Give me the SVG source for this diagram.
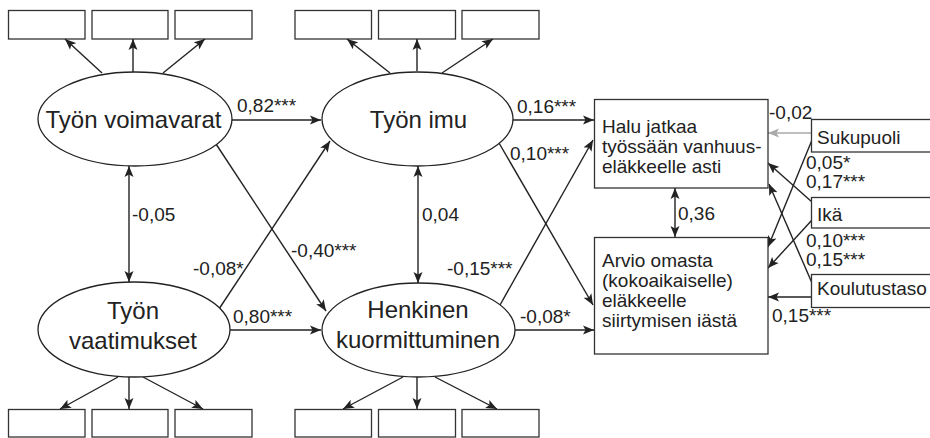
<svg xmlns="http://www.w3.org/2000/svg" width="930" height="438" viewBox="0 0 930 438">
<style>
.bx{fill:#fff;stroke:#333;stroke-width:1.3}
.el{fill:#fff;stroke:#222;stroke-width:1.3}
.ln{fill:none;stroke:#222;stroke-width:1.4;marker-end:url(#ah)}
.dl{fill:none;stroke:#222;stroke-width:1.4;marker-end:url(#ah);marker-start:url(#ah)}
.gl{fill:none;stroke:#aaa;stroke-width:1.6;marker-end:url(#ahg)}
text{font-family:"Liberation Sans",Arial,sans-serif;fill:#222}
.big{font-size:24px;text-anchor:middle}
.t{font-size:19px}
.n{font-size:19px}
</style>
<defs>
<marker id="ah" markerUnits="userSpaceOnUse" markerWidth="12" markerHeight="10" refX="11" refY="5" orient="auto-start-reverse" viewBox="0 0 12 10"><path d="M0,0.5 L11,5 L0,9.5 L2.5,5 z" fill="#222"/></marker>
<marker id="ahg" markerUnits="userSpaceOnUse" markerWidth="12" markerHeight="10" refX="11" refY="5" orient="auto" viewBox="0 0 12 10"><path d="M0,0.5 L11,5 L0,9.5 L2.5,5 z" fill="#aaa"/></marker>
</defs>

<g id="indicators">
<rect class="bx" x="8.5" y="10.5" width="76.5" height="28.5"/>
<rect class="bx" x="92" y="10.5" width="76" height="28.5"/>
<rect class="bx" x="175" y="10.5" width="77" height="28.5"/>
<rect class="bx" x="295" y="10.5" width="76.5" height="28.5"/>
<rect class="bx" x="378.5" y="10.5" width="77" height="28.5"/>
<rect class="bx" x="462" y="10.5" width="77" height="28.5"/>
<rect class="bx" x="8.5" y="409.5" width="76.5" height="27.5"/>
<rect class="bx" x="92" y="409.5" width="76" height="27.5"/>
<rect class="bx" x="175" y="409.5" width="77" height="27.5"/>
<rect class="bx" x="295" y="409.5" width="76.5" height="27.5"/>
<rect class="bx" x="378.5" y="409.5" width="77" height="27.5"/>
<rect class="bx" x="462" y="409.5" width="77" height="27.5"/>
</g>

<g id="connectors">
<line class="ln" x1="102" y1="73" x2="65" y2="39"/>
<line class="ln" x1="133" y1="72" x2="133" y2="39"/>
<line class="ln" x1="163" y1="73" x2="205" y2="39"/>
<line class="ln" x1="390" y1="73" x2="347" y2="39"/>
<line class="ln" x1="417" y1="71" x2="417" y2="39"/>
<line class="ln" x1="442" y1="73" x2="493" y2="39"/>
<line class="ln" x1="118" y1="377" x2="60" y2="409"/>
<line class="ln" x1="129" y1="377" x2="129" y2="409"/>
<line class="ln" x1="143" y1="377" x2="203" y2="409"/>
<line class="ln" x1="403" y1="377" x2="343" y2="409"/>
<line class="ln" x1="417" y1="377" x2="417" y2="409"/>
<line class="ln" x1="435" y1="377" x2="497" y2="409"/>
<line class="ln" x1="232" y1="120" x2="321" y2="120"/>
<line class="ln" x1="230" y1="330" x2="321" y2="330"/>
<line class="ln" x1="216" y1="144" x2="326" y2="311"/>
<line class="ln" x1="219" y1="309" x2="330" y2="141"/>
<line class="dl" x1="129" y1="166" x2="129" y2="282"/>
<line class="dl" x1="418" y1="166" x2="418" y2="283"/>
<line class="ln" x1="513" y1="120" x2="594" y2="120"/>
<line class="ln" x1="515" y1="330" x2="594" y2="330"/>
<line class="ln" x1="499" y1="143" x2="593" y2="305"/>
<line class="ln" x1="500" y1="305" x2="593" y2="140"/>
<line class="dl" x1="675" y1="188" x2="675" y2="237"/>
<line class="gl" x1="811" y1="133" x2="768" y2="133"/>
<line class="ln" x1="812" y1="140" x2="768" y2="247"/>
<line class="ln" x1="812" y1="202" x2="768" y2="163"/>
<line class="ln" x1="812" y1="220" x2="768" y2="268"/>
<line class="ln" x1="812" y1="283" x2="769" y2="184"/>
<line class="ln" x1="812" y1="297" x2="768" y2="297"/>
</g>

<g id="voimavarat">
<ellipse class="el" cx="135" cy="119" rx="97" ry="47"/>
<text class="big" x="133.5" y="128">Työn voimavarat</text>
</g>
<g id="imu">
<ellipse class="el" cx="417.5" cy="119" rx="95.5" ry="47"/>
<text class="big" x="418.5" y="128">Työn imu</text>
</g>
<g id="vaatimukset">
<ellipse class="el" cx="134" cy="329.5" rx="96" ry="47.5"/>
<text class="big" x="133" y="319">Työn</text>
<text class="big" x="133" y="349">vaatimukset</text>
</g>
<g id="kuormittuminen">
<ellipse class="el" cx="418.5" cy="330" rx="96.5" ry="47"/>
<text class="big" x="418" y="318">Henkinen</text>
<text class="big" x="418" y="348">kuormittuminen</text>
</g>

<g id="halu">
<rect class="bx" x="594.5" y="99.5" width="173.5" height="88.5"/>
<text class="t" x="602" y="133">Halu jatkaa</text>
<text class="t" x="602" y="153">työssään vanhuus-</text>
<text class="t" x="602" y="173">eläkkeelle asti</text>
</g>
<g id="arvio">
<rect class="bx" x="594.5" y="237.5" width="173.5" height="116.5"/>
<text class="t" x="602" y="267">Arvio omasta</text>
<text class="t" x="602" y="287">(kokoaikaiselle)</text>
<text class="t" x="602" y="307">eläkkeelle</text>
<text class="t" x="602" y="327">siirtymisen iästä</text>
</g>
<g id="sukupuoli">
<rect class="bx" x="811.5" y="119.5" width="125" height="32.5"/>
<text class="t" x="817" y="144">Sukupuoli</text>
</g>
<g id="ika">
<rect class="bx" x="811.5" y="197.5" width="125" height="30.5"/>
<text class="t" x="817" y="221">Ikä</text>
</g>
<g id="koulutustaso">
<rect class="bx" x="811.5" y="274.5" width="125" height="33"/>
<text class="t" x="817" y="295">Koulutustaso</text>
</g>

<g id="labels">
<text class="n" x="237" y="112">0,82***</text>
<text class="n" x="517" y="113">0,16***</text>
<text class="n" x="510" y="160">0,10***</text>
<text class="n" x="132" y="221">-0,05</text>
<text class="n" x="422" y="221">0,04</text>
<text class="n" x="291" y="257">-0,40***</text>
<text class="n" x="193" y="275">-0,08*</text>
<text class="n" x="447" y="275">-0,15***</text>
<text class="n" x="233" y="323">0,80***</text>
<text class="n" x="520" y="323">-0,08*</text>
<text class="n" x="678" y="220">0,36</text>
<text class="n" x="769" y="119">-0,02</text>
<text class="n" x="806" y="169">0,05*</text>
<text class="n" x="806" y="188">0,17***</text>
<text class="n" x="806" y="247">0,10***</text>
<text class="n" x="806" y="266">0,15***</text>
<text class="n" x="772" y="322">0,15***</text>
</g>
</svg>
